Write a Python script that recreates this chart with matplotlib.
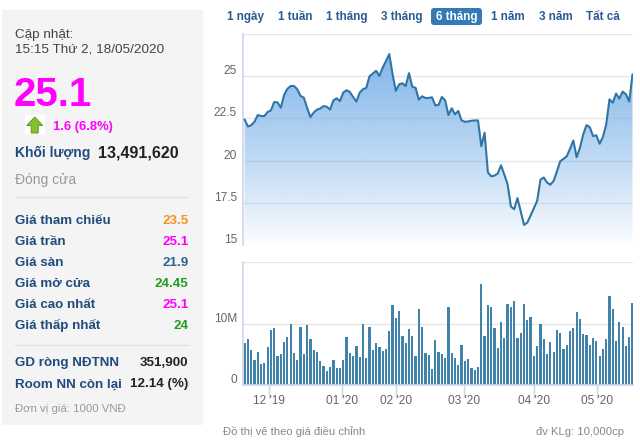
import numpy as np
import matplotlib
matplotlib.use("Agg")
import matplotlib.pyplot as plt
from matplotlib.patches import Polygon, Rectangle, FancyBboxPatch
from matplotlib.colors import to_rgb

plt.rcParams['font.family'] = ['Liberation Sans', 'DejaVu Sans']

# ---------------- data ----------------
price = [22.42, 22.02, 22.10, 22.30, 22.70, 22.64, 22.64, 22.88, 22.98, 23.47,
         23.45, 23.13, 23.89, 24.25, 24.42, 24.42, 24.23, 23.83, 23.73, 23.13,
         22.58, 22.84, 23.02, 23.08, 23.23, 23.19, 23.02, 23.57, 23.69, 23.53,
         24.03, 24.17, 24.07, 23.77, 23.49, 24.03, 24.23, 24.31, 25.00, 25.16,
         25.32, 25.02, 25.51, 25.90, 26.31, 25.12, 24.13, 24.52, 24.58, 24.42,
         25.18, 24.38, 24.31, 23.61, 23.81, 23.71, 23.71, 23.75, 23.27, 23.30,
         23.77, 23.57, 22.70, 23.10, 22.74, 22.94, 22.38, 22.30, 22.32, 22.36,
         22.38, 22.38, 20.85, 21.65, 19.30, 19.07, 19.11, 19.23, 19.72, 19.17,
         18.60, 17.28, 17.12, 17.78, 16.98, 16.19, 16.33, 16.75, 17.18, 17.62,
         18.87, 19.00, 18.70, 18.57, 18.80, 19.36, 19.96, 20.10, 20.26, 20.70,
         21.19, 20.20, 20.75, 21.55, 22.10, 21.98, 21.45, 21.50, 21.00, 21.40,
         22.15, 23.63, 23.43, 23.97, 23.67, 24.09, 23.93, 23.50, 25.10]

volume_m = [6.9, 7.5, 5.7, 4.1, 5.4, 3.4, 3.6, 6.2, 8.9, 9.2,
            4.7, 5.0, 7.0, 7.8, 10.0, 5.2, 4.1, 9.4, 5.0, 9.7,
            7.5, 5.7, 5.4, 3.9, 3.1, 2.3, 2.9, 4.1, 2.8, 2.8,
            4.1, 7.8, 5.2, 4.7, 6.3, 4.5, 9.9, 4.4, 9.4, 5.7,
            6.9, 6.2, 5.6, 5.8, 8.8, 13.0, 10.9, 12.0, 7.9, 6.8,
            9.1, 7.9, 4.7, 12.4, 9.4, 5.2, 4.9, 2.6, 7.3, 5.4,
            5.0, 4.4, 12.7, 5.2, 4.4, 3.2, 6.5, 3.9, 4.2, 2.8,
            2.4, 2.9, 16.4, 7.9, 13.0, 12.7, 9.2, 6.0, 10.2, 7.6,
            13.2, 12.7, 13.7, 7.6, 8.4, 13.2, 10.6, 11.0, 4.7, 6.3,
            10.0, 7.4, 5.0, 7.0, 5.4, 8.9, 8.5, 5.8, 6.5, 8.7,
            9.2, 11.8, 10.8, 8.3, 8.1, 6.5, 7.6, 7.2, 4.7, 5.8,
            7.4, 14.5, 12.3, 7.1, 10.3, 9.5, 6.3, 7.8, 13.4]

month_tick_pos = [7.4, 29.5, 46.0, 66.7, 88.0, 107.3]
month_tick_labels = ["12 '19", "01 '20", "02 '20", "03 '20", "04 '20", "05 '20"]

price_ticks = [15, 17.5, 20, 22.5, 25, 27.5]
price_tick_labels = ["15", "17.5", "20", "22.5", "25", ""]
vol_ticks = [0, 10, 20]
vol_tick_labels = ["0", "10M", ""]

ranges = ["1 ngày", "1 tuần", "1 tháng", "3 tháng", "6 tháng", "1 năm", "3 năm", "Tất cả"]
range_x = [245.5, 295, 346.5, 401.5, 456.5, 508, 555.5, 603]
active_range = "6 tháng"

info_labels = ["Giá tham chiếu", "Giá trần", "Giá sàn", "Giá mở cửa", "Giá cao nhất", "Giá thấp nhất"]
info_values = ["23.5", "25.1", "21.9", "24.45", "25.1", "24"]
info_colors = ["#f7941d", "#ff00ff", "#2a6496", "#1e9c1e", "#ff00ff", "#1e9c1e"]
foreign_labels = ["GD ròng NĐTNN", "Room NN còn lại"]
foreign_values = ["351,900", "12.14 (%)"]

# ---------------- figure ----------------
W, H = 640, 442
fig = plt.figure(figsize=(6.4, 4.42), dpi=100)
fig.patch.set_facecolor("white")

ov = fig.add_axes([0, 0, 1, 1])
ov.set_xlim(0, W)
ov.set_ylim(H, 0)
ov.axis("off")

NAVY = "#214b7d"

# left panel
ov.add_patch(Rectangle((2, 10), 201, 415, facecolor="#f4f4f4", edgecolor="none", zorder=0))
ov.text(15, 38, "Cập nhật:", fontsize=9.7, color="#444444", va="baseline")
ov.text(15, 52.5, "15:15 Thứ 2, 18/05/2020", fontsize=9.7, color="#444444", va="baseline")
ov.text(14, 106, "25.1", fontsize=29, fontweight="bold", color="#ff00ff", va="baseline")
# green arrow icon
ov.add_patch(Rectangle((25, 115), 20, 19, facecolor="white", edgecolor="none", zorder=1))
ov.add_patch(Polygon([(34.7, 117), (42.7, 125.5), (38.2, 125.5), (38.2, 133), (31.2, 133),
                      (31.2, 125.5), (26.7, 125.5)], closed=True,
                     facecolor="#82c232", edgecolor="#5f9c22", lw=0.7, zorder=2))
ov.text(52.7, 130, "1.6 (6.8%)", fontsize=9.4, fontweight="bold", color="#ff00ff", va="baseline")
ov.text(15, 157, "Khối lượng", fontsize=10, fontweight="bold", color=NAVY, va="baseline")
ov.text(178.5, 157, "13,491,620", fontsize=11.5, fontweight="bold", color="#222222",
        va="baseline", ha="right")
ov.text(15, 184, "Đóng cửa", fontsize=10, color="#999999", va="baseline")
ov.plot([15, 188], [197, 197], color="#e2e2e2", lw=1)
for i, (lab, val, col) in enumerate(zip(info_labels, info_values, info_colors)):
    yb = 224 + i * 21
    ov.text(15, yb, lab, fontsize=9.6, fontweight="bold", color=NAVY, va="baseline")
    ov.text(188.5, yb, val, fontsize=9.6, fontweight="bold", color=col, va="baseline", ha="right")
ov.plot([15, 188], [345, 345], color="#e2e2e2", lw=1)
for i, (lab, val) in enumerate(zip(foreign_labels, foreign_values)):
    yb = 366 + i * 21.3
    ov.text(15, yb, lab, fontsize=9.6, fontweight="bold", color=NAVY, va="baseline")
    ov.text(188.5, yb, val, fontsize=9.6, fontweight="bold", color="#222222", va="baseline", ha="right")
ov.text(15, 412.5, "Đơn vị giá: 1000 VNĐ", fontsize=8.2, color="#999999", va="baseline")

# range buttons
for lab, xc in zip(ranges, range_x):
    if lab == active_range:
        ov.add_patch(FancyBboxPatch((431, 8), 51, 17, boxstyle="round,pad=0,rounding_size=3",
                                    facecolor="#337ab7", edgecolor="none", zorder=1))
        ov.text(xc, 20.3, lab, fontsize=8.4, fontweight="bold", color="white",
                ha="center", va="baseline", zorder=2)
    else:
        ov.text(xc, 20.3, lab, fontsize=8.4, fontweight="bold", color="#2a5a94",
                ha="center", va="baseline")

# footer
ov.text(223, 435, "Đồ thị vẽ theo giá điều chỉnh", fontsize=8.1, color="#888888", va="baseline")
ov.text(624, 435, "đv KLg: 10,000cp", fontsize=8.1, color="#888888", va="baseline", ha="right")

# ---------------- price chart ----------------
x = np.arange(len(price))
XL = (-0.5, len(price) - 0.85)
GRID = "#e6e6e6"
AXC = "#ccd6eb"
LAB = "#666666"

axp = fig.add_axes([243 / W, 1 - 245 / H, 390 / W, (245 - 34) / H])
axp.set_xlim(*XL)
axp.set_ylim(15, 27.5)
axp.set_facecolor("none")
for s in ["top", "right", "bottom"]:
    axp.spines[s].set_visible(False)
axp.spines["left"].set_color(AXC)
axp.spines["left"].set_linewidth(1.2)
axp.set_xticks([])
axp.set_yticks([])
for v, lab in zip(price_ticks, price_tick_labels):
    axp.axhline(v, color=GRID, lw=1.0, zorder=0)
    if lab:
        axp.annotate(lab, xy=(0, v), xycoords=("axes fraction", "data"), xytext=(-6, 2),
                     textcoords="offset pixels", ha="right", va="baseline",
                     fontsize=8.6, color=LAB, annotation_clip=False)

verts = [(x[0], 15)] + list(zip(x, price)) + [(x[-1], 15)]
poly = Polygon(verts, closed=True, facecolor="none", edgecolor="none")
axp.add_patch(poly)
n = 256
rgba = np.zeros((n, 1, 4))
rgba[..., :3] = to_rgb("#78b0e8")
rgba[:, 0, 3] = np.linspace(1.0, 0.0, n) ** 0.85
im = axp.imshow(rgba, extent=[XL[0], XL[1], 15, 27.5], aspect="auto", origin="upper",
                zorder=1, interpolation="bilinear")
im.set_clip_path(poly)
axp.plot(x, price, color="#2f76a6", lw=1.5, zorder=3, solid_joinstyle="round")

# ---------------- volume chart ----------------
axv = fig.add_axes([243 / W, 1 - 385 / H, 390 / W, (385 - 262) / H])
axv.set_xlim(*XL)
axv.set_ylim(0, 20)
axv.set_facecolor("none")
for s in ["top", "right"]:
    axv.spines[s].set_visible(False)
for s in ["left", "bottom"]:
    axv.spines[s].set_color(AXC)
    axv.spines[s].set_linewidth(1.2)
axv.set_yticks([])
for v, lab in zip(vol_ticks, vol_tick_labels):
    if v > 0:
        axv.axhline(v, color=GRID, lw=1.0, zorder=0)
    if lab:
        axv.annotate(lab, xy=(0, v), xycoords=("axes fraction", "data"), xytext=(-6, 2),
                     textcoords="offset pixels", ha="right", va="baseline",
                     fontsize=8.6, color=LAB, annotation_clip=False)
axv.bar(x, volume_m, width=0.68, color="#4283ab", edgecolor="none", zorder=2)
axv.set_xticks(month_tick_pos)
axv.set_xticklabels([])
axv.tick_params(axis="x", length=9, width=1, color=AXC, direction="out")
for p, lab in zip(month_tick_pos, month_tick_labels):
    axv.annotate(lab, xy=(p, 0), xycoords=("data", "axes fraction"), xytext=(0, -19),
                 textcoords="offset pixels", ha="center", va="baseline",
                 fontsize=8.6, color=LAB, annotation_clip=False)

fig.savefig("out.png", dpi=100, facecolor="white")
